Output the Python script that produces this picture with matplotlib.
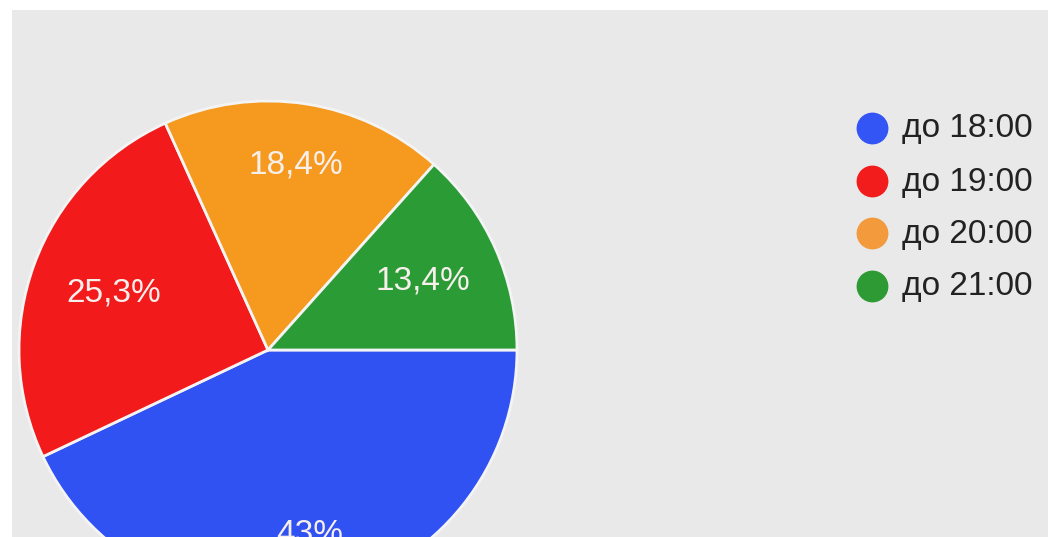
import matplotlib.pyplot as plt
import numpy as np
from matplotlib.patches import Rectangle

# данные
categories = ['до 18:00', 'до 19:00', 'до 20:00', 'до 21:00']
values = [43.0, 25.3, 18.4, 13.4]
pct_labels = ['43%', '25,3%', '18,4%', '13,4%']
colors = ['#3152f2', '#f21a1a', '#f59a1f', '#2b9b36']
legend_colors = ['#3355f5', '#f21c1c', '#f29a3c', '#2d9a34']

plt.rcParams['font.family'] = ['Liberation Sans', 'DejaVu Sans']

fig = plt.figure(figsize=(10.48, 5.37), dpi=100)
fig.patch.set_facecolor('white')
ax = fig.add_axes([0, 0, 1, 1])

# серый фон экрана
ax.add_patch(Rectangle((12, 0), 1036, 527, facecolor='#e9e9e9', edgecolor='none', zorder=0))

cx, cy, r = 268, 187, 249
wedges, _ = ax.pie(values, colors=colors, startangle=0, counterclock=False,
                   center=(cx, cy), radius=r, frame=True,
                   wedgeprops=dict(edgecolor='#f4f4f4', linewidth=2))
ax.set_xlim(0, 1048)
ax.set_ylim(0, 537)
ax.axis('off')

# подписи процентов (43% в оригинале обрезана нижним краем)
dists = [0.76, 0.66, 0.75, 0.68]
for w, lab, d in zip(wedges, pct_labels, dists):
    ang = np.deg2rad((w.theta1 + w.theta2) / 2)
    ax.text(cx + d * r * np.cos(ang), cy + d * r * np.sin(ang), lab,
            ha='center', va='center', fontsize=24, color='#f6efec', clip_on=True)

# легенда
leg_y = [409, 356, 304, 251]
for yy, cat, c in zip(leg_y, categories, legend_colors):
    ax.scatter([872], [yy], s=480, color=c, zorder=3)
    ax.text(902, yy - 1, cat, ha='left', va='center', fontsize=24, color='#222222')

fig.savefig('out.png', dpi=100)
